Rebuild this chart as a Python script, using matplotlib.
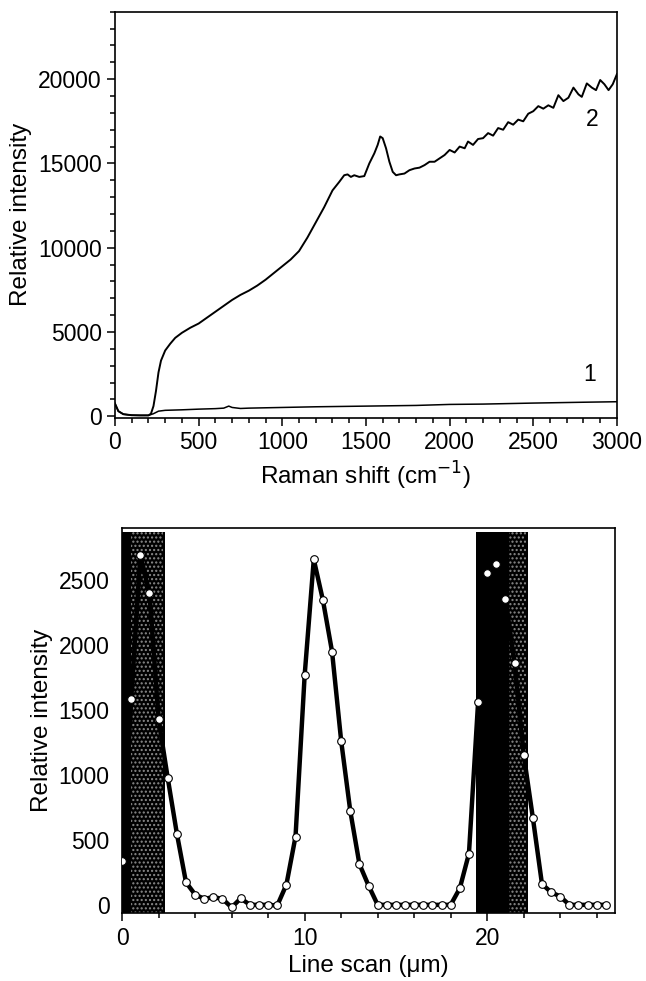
"""Raman spectra (top) and line-scan intensity profile (bottom)."""

import matplotlib
matplotlib.use("Agg")
import matplotlib.pyplot as plt
import matplotlib.ticker as mticker

plt.rcParams["font.family"] = ["Liberation Sans", "DejaVu Sans"]
plt.rcParams["hatch.linewidth"] = 1.0

# ---------------------------------------------------------------------------
# Data
# ---------------------------------------------------------------------------

# spectrum 2 (upper curve)
shift_2 = [0, 20, 50, 100, 150, 200, 215, 230, 245, 260, 275, 300, 330, 360, 400,
           450, 500, 550, 600, 650, 700, 750, 800, 850, 900, 950, 1000, 1050, 1100,
           1150, 1200, 1250, 1300, 1340, 1370, 1390, 1410, 1430, 1460, 1490, 1520,
           1550, 1570, 1585, 1600, 1620, 1640, 1660, 1680, 1700, 1730, 1760, 1790,
           1820, 1850, 1880, 1910, 1940, 1970, 2000, 2030, 2060, 2090, 2110, 2140,
           2170, 2200, 2230, 2260, 2290, 2320, 2350, 2380, 2410, 2440, 2470, 2500,
           2530, 2560, 2590, 2620, 2650, 2680, 2710, 2740, 2770, 2790, 2820, 2850,
           2875, 2900, 2925, 2950, 2975, 3000]
intensity_2 = [750, 300, 120, 60, 50, 50, 150, 600, 1500, 2600, 3300, 3900, 4300, 4650,
               4950, 5250, 5500, 5850, 6200, 6550, 6900, 7200, 7450, 7750, 8100, 8500,
               8900, 9300, 9800, 10600, 11500, 12400, 13400, 13900, 14300, 14350, 14200,
               14300, 14200, 14250, 15000, 15600, 16100, 16600, 16500, 15900, 15100,
               14500, 14300, 14350, 14400, 14600, 14700, 14750, 14900, 15100, 15100,
               15300, 15500, 15800, 15650, 16000, 15900, 16300, 16100, 16450, 16500,
               16800, 16650, 17100, 17000, 17450, 17300, 17600, 17500, 17950, 18100,
               18400, 18250, 18450, 18300, 19050, 18700, 18900, 19500, 19100, 18950,
               19750, 19500, 19350, 19950, 19700, 19350, 19700, 20300]

# spectrum 1 (lower curve)
shift_1 = [0, 20, 50, 100, 150, 200, 230, 260, 300, 400, 500, 600, 650, 680, 700, 750,
           800, 1000, 1200, 1500, 1800, 2000, 2200, 2500, 2800, 3000]
intensity_1 = [750, 300, 120, 60, 50, 50, 150, 300, 350, 380, 420, 450, 480, 600, 520,
               460, 480, 520, 560, 600, 640, 700, 720, 780, 830, 860]

# line scan
scan_pos = [0, 0.5, 1, 1.5, 2, 2.5, 3, 3.5, 4, 4.5, 5, 5.5, 6, 6.5, 7, 7.5, 8, 8.5,
            9, 9.5, 10, 10.5, 11, 11.5, 12, 12.5, 13, 13.5, 14, 14.5, 15, 15.5, 16,
            16.5, 17, 17.5, 18, 18.5, 19, 19.5, 20, 20.5, 21, 21.5, 22, 22.5, 23,
            23.5, 24, 24.5, 25, 25.5, 26, 26.5]
scan_int = [343, 1584, 2690, 2396, 1429, 979, 552, 178, 84, 51, 64, 51, -15, 55, 5, 5,
            5, 0, 160, 529, 1767, 2657, 2345, 1950, 1264, 725, 318, 153, 5, 5, 5, 5, 5,
            5, 5, 5, 5, 132, 399, 1559, 2551, 2619, 2352, 1864, 1157, 674, 165, 102, 69,
            5, 5, 5, 5, 5]

# dark regions of the line scan (start, end, stippled part start)
bands = [(0.0, 2.33, 0.5), (19.4, 22.25, 21.2)]
BAND_TOP = 2870

TICK_FS = 16.5
LABEL_FS = 17.5


def style_axes(ax):
    for sp in ax.spines.values():
        sp.set_linewidth(1.2)
    ax.tick_params(which="both", direction="out", top=False, right=False,
                   labelsize=TICK_FS, width=1.1)
    ax.tick_params(which="major", length=6)
    ax.tick_params(which="minor", length=3.5)


fig = plt.figure(figsize=(6.46, 9.81), dpi=100)

# ── top: Raman spectra ─────────────────────────────────────────────────────
ax1 = fig.add_axes([0.178, 0.574, 0.777, 0.414])
ax1.plot(shift_2, intensity_2, color="black", lw=1.4)
ax1.plot(shift_1, intensity_1, color="black", lw=1.1)
ax1.set_xlim(0, 3000)
ax1.set_ylim(-100, 24000)
ax1.xaxis.set_major_locator(mticker.MultipleLocator(500))
ax1.xaxis.set_minor_locator(mticker.MultipleLocator(100))
ax1.yaxis.set_major_locator(mticker.MultipleLocator(5000))
ax1.yaxis.set_minor_locator(mticker.MultipleLocator(1000))
style_axes(ax1)
ax1.set_xlabel("Raman shift (cm$^{-1}$)", fontsize=LABEL_FS, labelpad=4)
ax1.set_ylabel("Relative intensity", fontsize=LABEL_FS, labelpad=4)
ax1.text(2850, 17600, "2", fontsize=TICK_FS, ha="center", va="center")
ax1.text(2835, 2500, "1", fontsize=TICK_FS, ha="center", va="center")

# ── bottom: line scan ──────────────────────────────────────────────────────
ax2 = fig.add_axes([0.189, 0.069, 0.763, 0.393])
for x0, x1, xs in bands:
    ax2.fill_between([x0, x1], 0 - 60, BAND_TOP, color="black", lw=0, zorder=1)
    ax2.fill_between([xs, x1 - 0.1], 0 - 60, BAND_TOP, facecolor="none",
                     edgecolor="#8a8a8a", hatch="....", lw=0, zorder=1.5)
ax2.plot(scan_pos, scan_int, color="black", lw=3.2, zorder=2)
ax2.plot(scan_pos, scan_int, ls="none", marker="o", ms=5.5, mfc="white",
         mec="black", mew=0.8, zorder=3)
ax2.set_xlim(0, 27)
ax2.set_ylim(-60, 2900)
ax2.xaxis.set_major_locator(mticker.MultipleLocator(10))
ax2.xaxis.set_minor_locator(mticker.MultipleLocator(2))
ax2.yaxis.set_major_locator(mticker.MultipleLocator(500))
ax2.yaxis.set_minor_locator(mticker.MultipleLocator(250))
style_axes(ax2)
ax2.tick_params(axis="y", which="both", direction="in", pad=9)
ax2.set_xlabel("Line scan (\u03bcm)", fontsize=LABEL_FS, labelpad=4)
ax2.set_ylabel("Relative intensity", fontsize=LABEL_FS, labelpad=4)

fig.savefig("out.png", dpi=100)
